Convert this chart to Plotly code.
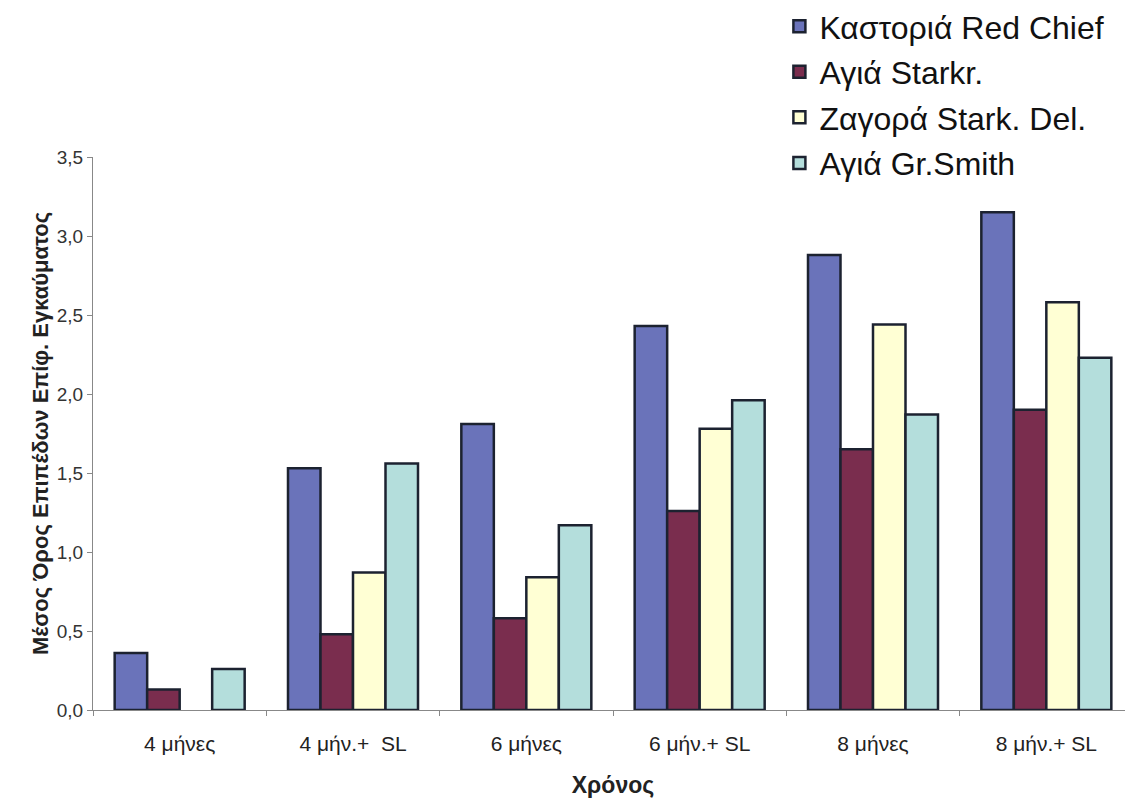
import plotly.graph_objects as go

categories = ["4 μήνες", "4 μήν.+  SL", "6 μήνες", "6 μήν.+ SL", "8 μήνες", "8 μήν.+ SL"]
kastoria_red_chief = [0.36, 1.53, 1.81, 2.43, 2.88, 3.15]
agia_starkr = [0.13, 0.48, 0.58, 1.26, 1.65, 1.90]
zagora_stark_del = [None, 0.87, 0.84, 1.78, 2.44, 2.58]
agia_gr_smith = [0.26, 1.56, 1.17, 1.96, 1.87, 2.23]

series_names = ["Καστοριά Red Chief", "Αγιά Starkr.", "Ζαγορά Stark. Del.", "Αγιά Gr.Smith"]
series_values = [kastoria_red_chief, agia_starkr, zagora_stark_del, agia_gr_smith]
series_colors = ["#6A73BA", "#7A2D4E", "#FFFFD4", "#B4DEDC"]

y_tickvals = [0, 0.5, 1.0, 1.5, 2.0, 2.5, 3.0, 3.5]
y_ticktext = ["0,0", "0,5", "1,0", "1,5", "2,0", "2,5", "3,0", "3,5"]

fig = go.Figure()
for name, vals, col in zip(series_names, series_values, series_colors):
    fig.add_trace(go.Bar(
        x=categories, y=vals, name=name, legendgroup=name,
        marker=dict(color=col, line=dict(color="#1C2230", width=2.5)),
    ))

fig.update_layout(
    width=1125, height=790,
    margin=dict(l=85, r=0, t=149, b=88, autoexpand=False),
    paper_bgcolor="white", plot_bgcolor="white",
    barmode="group", bargap=0.25, bargroupgap=0,
    font=dict(family="Liberation Sans, Arial, sans-serif", color="#222"),
    showlegend=True,
    legend=dict(
        x=0.66, y=1.286, xanchor="left", yanchor="top",
        font=dict(size=32, color="#111"),
        tracegroupgap=1, itemwidth=30,
        bgcolor="rgba(0,0,0,0)",
    ),
    xaxis=dict(
        automargin=False,
        showline=True, linecolor="#888", linewidth=1,
        ticks="outside", ticklen=5, tickcolor="#888", tickson="boundaries",
        ticklabelstandoff=15,
        tickfont=dict(size=21, color="#222"),
        title=dict(text="<b>Χρόνος</b>", font=dict(size=23, color="#222"), standoff=22),
        showgrid=False,
    ),
    yaxis=dict(
        automargin=False,
        range=[0, 3.5], tickvals=y_tickvals, ticktext=y_ticktext,
        showline=True, linecolor="#888", linewidth=1,
        ticks="outside", ticklen=5, tickcolor="#888",
        tickfont=dict(size=19, color="#333"),
        showgrid=False, zeroline=False,
        title=dict(text="<b>Μέσος Όρος Επιπέδων Επίφ. Εγκαύματος</b>",
                   font=dict(size=22, color="#222"), standoff=2),
    ),
)

fig.write_html("out.html")
